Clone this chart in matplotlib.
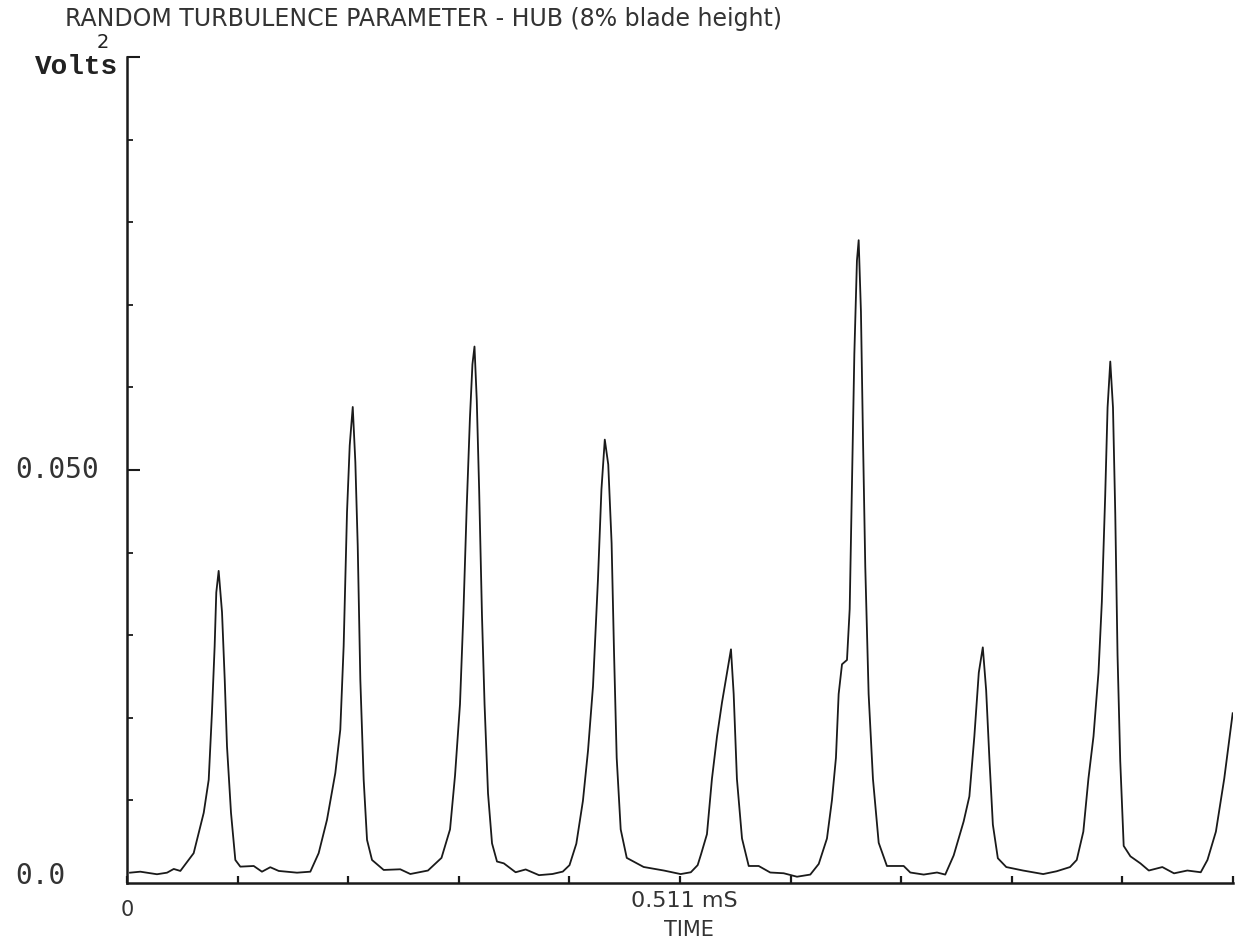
import numpy as np
import matplotlib
matplotlib.use("Agg")
import matplotlib.pyplot as plt
import matplotlib.transforms as mtrans
from matplotlib.ticker import FixedLocator

# ---- data (time in ms, value in Volts^2) ----
time_ms = [
    0.0028, 0.0123, 0.0277, 0.0370, 0.0432, 0.0493, 0.0616, 0.0709, 0.0755, 0.0785,
    0.0810, 0.0825, 0.0847, 0.0878, 0.0903, 0.0924, 0.0961, 0.1001, 0.1047, 0.1171,
    0.1247, 0.1324, 0.1402, 0.1571, 0.1694, 0.1771, 0.1848, 0.1925, 0.1971, 0.2002,
    0.2033, 0.2058, 0.2086, 0.2110, 0.2132, 0.2156, 0.2187, 0.2218, 0.2264, 0.2372,
    0.2525, 0.2618, 0.2680, 0.2781, 0.2906, 0.2985, 0.3031, 0.3077, 0.3108, 0.3139,
    0.3169, 0.3192, 0.3211, 0.3232, 0.3254, 0.3280, 0.3304, 0.3336, 0.3373, 0.3419,
    0.3482, 0.3591, 0.3684, 0.3807, 0.3932, 0.4027, 0.4089, 0.4152, 0.4213, 0.4260,
    0.4306, 0.4352, 0.4384, 0.4415, 0.4447, 0.4478, 0.4500, 0.4525, 0.4562, 0.4618,
    0.4774, 0.4961, 0.5116, 0.5210, 0.5273, 0.5304, 0.5359, 0.5405, 0.5452, 0.5498,
    0.5538, 0.5581, 0.5606, 0.5636, 0.5683, 0.5745, 0.5837, 0.5944, 0.6068, 0.6191,
    0.6314, 0.6392, 0.6468, 0.6514, 0.6551, 0.6576, 0.6607, 0.6653, 0.6678, 0.6699,
    0.6721, 0.6745, 0.6761, 0.6782, 0.6801, 0.6822, 0.6853, 0.6893, 0.6946, 0.7022,
    0.7177, 0.7238, 0.7362, 0.7485, 0.7561, 0.7639, 0.7731, 0.7784, 0.7830, 0.7871,
    0.7908, 0.7939, 0.7970, 0.8001, 0.8047, 0.8125, 0.8280, 0.8466, 0.8590, 0.8714,
    0.8776, 0.8837, 0.8884, 0.8931, 0.8977, 0.9008, 0.9039, 0.9061, 0.9086, 0.9111,
    0.9132, 0.9153, 0.9178, 0.9210, 0.9272, 0.9365, 0.9442, 0.9567, 0.9675, 0.9798,
    0.9922, 0.9984, 1.0062, 1.0139, 1.0217,
]
volts_sq = [
    0.00125, 0.00137, 0.00106, 0.00125, 0.00170, 0.00146, 0.00361, 0.00850, 0.01250, 0.02064,
    0.02869, 0.03517, 0.03779, 0.03278, 0.02464, 0.01655, 0.00850, 0.00279, 0.00198, 0.00206,
    0.00137, 0.00191, 0.00146, 0.00125, 0.00137, 0.00361, 0.00765, 0.01332, 0.01857, 0.02869,
    0.04488, 0.05297, 0.05763, 0.05095, 0.04083, 0.02464, 0.01250, 0.00522, 0.00279, 0.00158,
    0.00166, 0.00109, 0.00125, 0.00151, 0.00304, 0.00649, 0.01299, 0.02165, 0.03247, 0.04546,
    0.05633, 0.06279, 0.06495, 0.05845, 0.04763, 0.03247, 0.02165, 0.01085, 0.00480, 0.00260,
    0.00238, 0.00130, 0.00164, 0.00095, 0.00109, 0.00138, 0.00216, 0.00476, 0.00995, 0.01602,
    0.02381, 0.03678, 0.04763, 0.05368, 0.05066, 0.04113, 0.02814, 0.01515, 0.00649, 0.00304,
    0.00194, 0.00151, 0.00108, 0.00130, 0.00216, 0.00346, 0.00591, 0.01259, 0.01774, 0.02185,
    0.02494, 0.02829, 0.02288, 0.01259, 0.00539, 0.00206, 0.00206, 0.00127, 0.00118, 0.00076,
    0.00102, 0.00231, 0.00539, 0.01002, 0.01516, 0.02288, 0.02648, 0.02700, 0.03317, 0.04860,
    0.06403, 0.07535, 0.07782, 0.06917, 0.05374, 0.03831, 0.02288, 0.01259, 0.00487, 0.00206,
    0.00206, 0.00127, 0.00102, 0.00127, 0.00102, 0.00334, 0.00745, 0.01049, 0.01776, 0.02547,
    0.02853, 0.02333, 0.01477, 0.00707, 0.00300, 0.00193, 0.00151, 0.00108, 0.00142, 0.00193,
    0.00279, 0.00622, 0.01263, 0.01776, 0.02547, 0.03403, 0.04687, 0.05757, 0.06313, 0.05757,
    0.04474, 0.02762, 0.01477, 0.00449, 0.00323, 0.00237, 0.00151, 0.00193, 0.00117, 0.00151,
    0.00130, 0.00279, 0.00622, 0.01263, 0.02055,
]

x_max = 1.022
x_tick_step = 0.1022
x_tick_labels = {0.0: "0", 0.511: "0.511 mS"}
y_max = 0.1
y_tick_labels = {0.0: "0.0", 0.05: "0.050"}

title_text = "RANDOM TURBULENCE PARAMETER - HUB (8% blade height)"
y_unit = "Volts"
y_unit_power = "2"
x_label = "TIME"

# ---- figure ----
W, H = 1235, 943
fig = plt.figure(figsize=(W / 100, H / 100), dpi=100)
fig.patch.set_facecolor("white")

left, right = 127 / W, 1233 / W
bottom, top = (H - 883) / H, (H - 57) / H
ax = fig.add_axes([left, bottom, right - left, top - bottom])

ink = "#1a1a1a"
ax.plot(time_ms, volts_sq, color=ink, lw=1.3, solid_joinstyle="round")

ax.set_xlim(0, x_max)
ax.set_ylim(0, y_max)

for s in ["top", "right"]:
    ax.spines[s].set_visible(False)
for s in ["left", "bottom"]:
    ax.spines[s].set_linewidth(1.8)
    ax.spines[s].set_color(ink)

# x ticks: 10 divisions, pointing inward
xt = [i * x_tick_step for i in range(11)]
ax.set_xticks(xt)
ax.set_xticklabels([""] * len(xt))
ax.tick_params(axis="x", direction="in", length=5, width=1.6, color=ink)

# y ticks: minor every 0.01, major at 0.05 and 0.1 (longer)
ax.yaxis.set_major_locator(FixedLocator([0.05, 0.1]))
ax.yaxis.set_minor_locator(FixedLocator([i * 0.01 for i in range(1, 10) if i != 5]))
ax.set_yticklabels(["", ""])
ax.tick_params(axis="y", which="major", direction="in", length=9, width=1.5, color=ink)
ax.tick_params(axis="y", which="minor", direction="in", length=4, width=1.3, color=ink)

lab_font = dict(family="DejaVu Sans Mono", fontsize=20, color="#333333")
# y tick labels, left aligned at the page margin
ytr = mtrans.blended_transform_factory(fig.transFigure, ax.transData)
for v, s in y_tick_labels.items():
    ax.text(15 / W, v + (0.0009 if v == 0 else 0.0), s, transform=ytr,
            ha="left", va="center", **lab_font)

# x tick labels
xtr = mtrans.blended_transform_factory(ax.transData, fig.transFigure)
ax.text(0.0, 1 - 910 / H, x_tick_labels[0.0], transform=xtr, ha="center", va="center",
        family="DejaVu Sans", fontsize=15, color="#333333")
ax.text(0.515, 1 - 901 / H, x_tick_labels[0.511], transform=xtr, ha="center", va="center",
        family="DejaVu Sans", fontsize=16, color="#333333")

# x label
fig.text(689 / W, 1 - 930 / H, x_label, ha="center", va="center",
         family="DejaVu Sans", fontsize=15, color="#333333")

# title
fig.text(65 / W, 1 - 19 / H, title_text, ha="left", va="center",
         family="DejaVu Sans", fontsize=17, color="#333333")

# y unit label
fig.text(35 / W, 1 - 67 / H, y_unit, ha="left", va="center",
         family="Liberation Mono", fontsize=20, fontweight="bold", color="#222222")
fig.text(97 / W, 1 - 43 / H, y_unit_power, ha="left", va="center",
         family="DejaVu Sans", fontsize=14, color="#222222")

fig.savefig("out.png", dpi=100, facecolor="white")
